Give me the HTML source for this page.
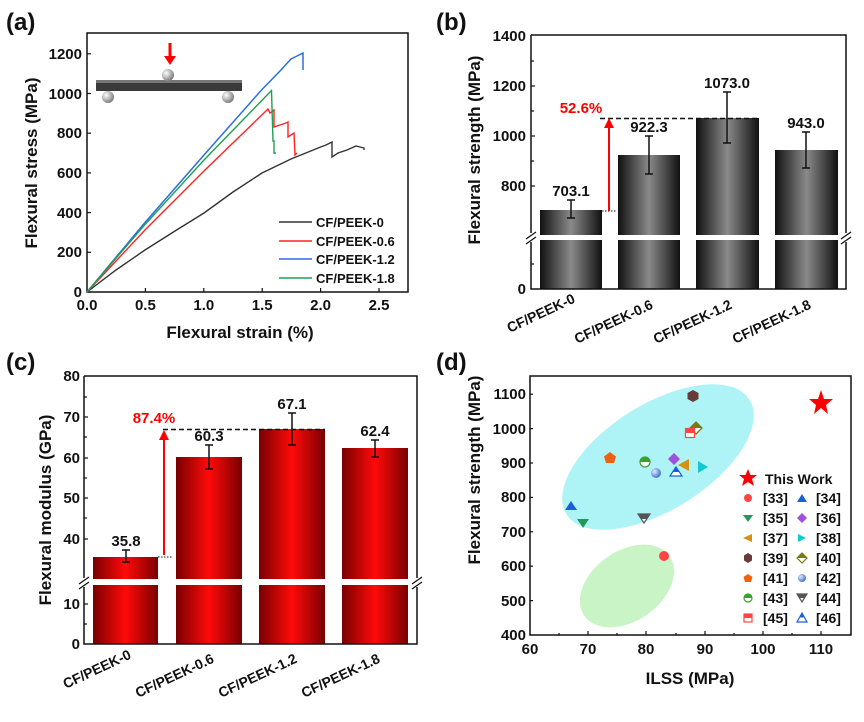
<!DOCTYPE html>
<html><head><meta charset="utf-8"><style>body{margin:0;background:#fff}svg{display:block}text{font-family:"Liberation Sans",Arial,sans-serif;font-weight:bold;fill:#111}</style></head>
<body>
<svg width="864" height="722" viewBox="0 0 864 722" xmlns="http://www.w3.org/2000/svg">
<defs>
<linearGradient id="gg" x1="0" x2="1" y1="0" y2="0"><stop offset="0" stop-color="#111"/><stop offset="0.5" stop-color="#8a8a8a"/><stop offset="1" stop-color="#111"/></linearGradient>
<linearGradient id="rg" x1="0" x2="1" y1="0" y2="0"><stop offset="0" stop-color="#7a0000"/><stop offset="0.5" stop-color="#ff0a0a"/><stop offset="1" stop-color="#7a0000"/></linearGradient>
<radialGradient id="sph" cx="0.35" cy="0.35" r="0.7"><stop offset="0" stop-color="#fff"/><stop offset="1" stop-color="#777"/></radialGradient>
<radialGradient id="bsph" cx="0.35" cy="0.35" r="0.7"><stop offset="0" stop-color="#dde8ff"/><stop offset="1" stop-color="#3a6fc8"/></radialGradient>
</defs>

<!-- ========== (a) ========== -->
<text x="6" y="30" font-size="24">(a)</text>
<rect x="87" y="33" width="321" height="259" fill="none" stroke="#111" stroke-width="1.5"/>
<g stroke="#111" stroke-width="1.2">
<line x1="87" y1="292" x2="91" y2="292"/><line x1="87" y1="252.3" x2="91" y2="252.3"/><line x1="87" y1="212.6" x2="91" y2="212.6"/><line x1="87" y1="172.9" x2="91" y2="172.9"/><line x1="87" y1="133.2" x2="91" y2="133.2"/><line x1="87" y1="93.5" x2="91" y2="93.5"/><line x1="87" y1="53.8" x2="91" y2="53.8"/>
<line x1="145.4" y1="292" x2="145.4" y2="288"/><line x1="203.8" y1="292" x2="203.8" y2="288"/><line x1="262.2" y1="292" x2="262.2" y2="288"/><line x1="320.6" y1="292" x2="320.6" y2="288"/><line x1="379" y1="292" x2="379" y2="288"/>
</g>
<g font-size="15" text-anchor="end">
<text x="82" y="297">0</text><text x="82" y="257">200</text><text x="82" y="218">400</text><text x="82" y="178">600</text><text x="82" y="138">800</text><text x="82" y="99">1000</text><text x="82" y="59">1200</text>
</g>
<g font-size="15" text-anchor="middle">
<text x="87" y="310">0.0</text><text x="145.4" y="310">0.5</text><text x="203.8" y="310">1.0</text><text x="262.2" y="310">1.5</text><text x="320.6" y="310">2.0</text><text x="379" y="310">2.5</text>
</g>
<text x="240" y="338" font-size="17" text-anchor="middle">Flexural strain (%)</text>
<text transform="translate(37,163) rotate(-90)" font-size="17" text-anchor="middle">Flexural stress (MPa)</text>
<!-- inset -->
<circle cx="108" cy="97" r="6" fill="url(#sph)"/><circle cx="228" cy="97" r="6" fill="url(#sph)"/>
<rect x="96" y="80" width="146" height="11" fill="#3a3a3a"/><rect x="96" y="80" width="146" height="3" fill="#777"/>
<circle cx="168" cy="75" r="6" fill="url(#sph)"/>
<line x1="170" y1="43" x2="170" y2="58" stroke="#f00" stroke-width="3"/><polygon points="164,56 176,56 170,65" fill="#f00"/>
<!-- curves -->
<polyline fill="none" stroke="#333" stroke-width="1.4" points="87,292 116,270 145,250 175,231 204,213 233,192 262,173 291,159 320.6,147 326,145 332,142 332,157 338,153 347,150 356,146 360,147 364,148 364,150"/>
<polyline fill="none" stroke="#f22" stroke-width="1.4" points="87,292 145,230 204,171 268,109 270,113 274,110 274,127 280,125 286,123 288,122 288,137 294,133 295,155 297,153"/>
<polyline fill="none" stroke="#2a6fe0" stroke-width="1.5" points="87,292 145,222.5 204,155 262,89.5 280,71 291,59 297,56 303,53 303,70"/>
<polyline fill="none" stroke="#1ea050" stroke-width="1.4" points="87,292 145,224.5 204,160 271.5,90.5 273,141 274,141 274,153 276,153"/>
<g stroke-width="1.5"><line x1="279" y1="222" x2="312" y2="222" stroke="#333"/><line x1="279" y1="241" x2="312" y2="241" stroke="#f22"/><line x1="279" y1="259" x2="312" y2="259" stroke="#2a6fe0"/><line x1="279" y1="278" x2="312" y2="278" stroke="#1ea050"/></g>
<g font-size="13"><text x="316" y="227">CF/PEEK-0</text><text x="316" y="246">CF/PEEK-0.6</text><text x="316" y="264">CF/PEEK-1.2</text><text x="316" y="283">CF/PEEK-1.8</text></g>

<!-- ========== (b) ========== -->
<text x="436" y="30" font-size="24">(b)</text>
<g fill="url(#gg)">
<rect x="540" y="210" width="62" height="25"/><rect x="618" y="155" width="62" height="80"/><rect x="696" y="118" width="63" height="117"/><rect x="775" y="150" width="63" height="85"/>
<rect x="540" y="240" width="62" height="49"/><rect x="618" y="240" width="62" height="49"/><rect x="696" y="240" width="63" height="49"/><rect x="775" y="240" width="63" height="49"/>
</g>
<path d="M531,35 H846 V233 M846,242 V289 H531 V242 M531,233 V35" fill="none" stroke="#111" stroke-width="1.5"/>
<g stroke="#111" stroke-width="1.3"><line x1="526" y1="239" x2="536" y2="232"/><line x1="526" y1="244" x2="536" y2="237"/><line x1="841" y1="239" x2="851" y2="232"/><line x1="841" y1="244" x2="851" y2="237"/></g>
<g stroke="#111" stroke-width="1.2"><line x1="531" y1="186" x2="535" y2="186"/><line x1="531" y1="161" x2="534" y2="161"/><line x1="531" y1="136" x2="535" y2="136"/><line x1="531" y1="111" x2="534" y2="111"/><line x1="531" y1="86" x2="535" y2="86"/><line x1="531" y1="61" x2="534" y2="61"/><line x1="531" y1="264" x2="534" y2="264"/></g>
<g font-size="15" text-anchor="end"><text x="526" y="294">0</text><text x="526" y="191">800</text><text x="526" y="141">1000</text><text x="526" y="91">1200</text><text x="526" y="41">1400</text></g>
<text transform="translate(480,150) rotate(-90)" font-size="17" text-anchor="middle">Flexural strength (MPa)</text>
<g stroke="#111" stroke-width="1.5">
<line x1="571" y1="200" x2="571" y2="218"/><line x1="567" y1="200" x2="575" y2="200"/><line x1="567" y1="218" x2="575" y2="218"/>
<line x1="649" y1="136" x2="649" y2="174"/><line x1="645" y1="136" x2="653" y2="136"/><line x1="645" y1="174" x2="653" y2="174"/>
<line x1="727" y1="92" x2="727" y2="143"/><line x1="723" y1="92" x2="731" y2="92"/><line x1="723" y1="143" x2="731" y2="143"/>
<line x1="806" y1="132" x2="806" y2="168"/><line x1="802" y1="132" x2="810" y2="132"/><line x1="802" y1="168" x2="810" y2="168"/>
</g>
<g font-size="15" text-anchor="middle"><text x="571" y="196">703.1</text><text x="649" y="132">922.3</text><text x="727" y="88">1073.0</text><text x="806" y="128">943.0</text></g>
<line x1="600" y1="118.5" x2="759" y2="118.5" stroke="#111" stroke-width="1.5" stroke-dasharray="5,3"/>
<line x1="602" y1="211" x2="616" y2="211" stroke="#111" stroke-width="1" stroke-dasharray="1.5,1.5"/>
<line x1="609" y1="211" x2="609" y2="126" stroke="#f00" stroke-width="2"/><polygon points="604,128 614,128 609,118" fill="#f00"/>
<text x="581" y="113" font-size="15" text-anchor="middle" style="fill:#f00">52.6%</text>
<g font-size="14" text-anchor="end">
<text transform="translate(576,302) rotate(-25)">CF/PEEK-0</text>
<text transform="translate(654,308) rotate(-25)">CF/PEEK-0.6</text>
<text transform="translate(733,308) rotate(-25)">CF/PEEK-1.2</text>
<text transform="translate(812,308) rotate(-25)">CF/PEEK-1.8</text>
</g>

<!-- ========== (c) ========== -->
<text x="6" y="370" font-size="24">(c)</text>
<g fill="url(#rg)">
<rect x="93" y="557" width="65" height="22"/><rect x="176" y="457" width="66" height="122"/><rect x="259" y="429" width="66" height="150"/><rect x="342" y="448" width="66" height="131"/>
<rect x="93" y="585" width="65" height="59"/><rect x="176" y="585" width="66" height="59"/><rect x="259" y="585" width="66" height="59"/><rect x="342" y="585" width="66" height="59"/>
</g>
<path d="M84,376 H417 V578 M417,587 V644 H84 V587 M84,578 V376" fill="none" stroke="#111" stroke-width="1.5"/>
<g stroke="#111" stroke-width="1.3"><line x1="79" y1="584" x2="89" y2="577"/><line x1="79" y1="589" x2="89" y2="582"/><line x1="412" y1="584" x2="422" y2="577"/><line x1="412" y1="589" x2="422" y2="582"/></g>
<g stroke="#111" stroke-width="1.2"><line x1="84" y1="539" x2="88" y2="539"/><line x1="84" y1="518" x2="87" y2="518"/><line x1="84" y1="498" x2="88" y2="498"/><line x1="84" y1="478" x2="87" y2="478"/><line x1="84" y1="458" x2="88" y2="458"/><line x1="84" y1="437" x2="87" y2="437"/><line x1="84" y1="417" x2="88" y2="417"/><line x1="84" y1="397" x2="87" y2="397"/><line x1="84" y1="604" x2="88" y2="604"/><line x1="84" y1="624" x2="87" y2="624"/></g>
<g font-size="15" text-anchor="end"><text x="80" y="649">0</text><text x="80" y="609">10</text><text x="80" y="544">40</text><text x="80" y="503">50</text><text x="80" y="463">60</text><text x="80" y="422">70</text><text x="80" y="381">80</text></g>
<text transform="translate(51,510) rotate(-90)" font-size="17" text-anchor="middle">Flexural modulus (GPa)</text>
<g stroke="#111" stroke-width="1.5">
<line x1="126" y1="550" x2="126" y2="562"/><line x1="122" y1="550" x2="130" y2="550"/><line x1="122" y1="562" x2="130" y2="562"/>
<line x1="209" y1="445" x2="209" y2="469"/><line x1="205" y1="445" x2="213" y2="445"/><line x1="205" y1="469" x2="213" y2="469"/>
<line x1="292" y1="413" x2="292" y2="445"/><line x1="288" y1="413" x2="296" y2="413"/><line x1="288" y1="445" x2="296" y2="445"/>
<line x1="375" y1="440" x2="375" y2="457"/><line x1="371" y1="440" x2="379" y2="440"/><line x1="371" y1="457" x2="379" y2="457"/>
</g>
<g font-size="15" text-anchor="middle"><text x="126" y="546">35.8</text><text x="209" y="441">60.3</text><text x="292" y="409">67.1</text><text x="375" y="436">62.4</text></g>
<line x1="163" y1="429.5" x2="325" y2="429.5" stroke="#111" stroke-width="1.5" stroke-dasharray="5,3"/>
<line x1="158" y1="557" x2="173" y2="557" stroke="#111" stroke-width="1" stroke-dasharray="1.5,1.5"/>
<line x1="164" y1="555" x2="164" y2="438" stroke="#f00" stroke-width="2"/><polygon points="159,440 169,440 164,430" fill="#f00"/>
<text x="154" y="423" font-size="15" text-anchor="middle" style="fill:#f00">87.4%</text>
<g font-size="14" text-anchor="end">
<text transform="translate(132,658) rotate(-25)">CF/PEEK-0</text>
<text transform="translate(215,662) rotate(-25)">CF/PEEK-0.6</text>
<text transform="translate(298,662) rotate(-25)">CF/PEEK-1.2</text>
<text transform="translate(381,662) rotate(-25)">CF/PEEK-1.8</text>
</g>

<!-- ========== (d) ========== -->
<text x="436" y="370" font-size="24">(d)</text>
<ellipse cx="658" cy="457" rx="108" ry="53" transform="rotate(-32 658 457)" fill="#aef4f7"/>
<ellipse cx="627" cy="586" rx="52" ry="35" transform="rotate(-35 627 586)" fill="#c9f5c6"/>
<rect x="530" y="376" width="321" height="259" fill="none" stroke="#111" stroke-width="1.5"/>
<g stroke="#111" stroke-width="1.2">
<line x1="530" y1="600.6" x2="533" y2="600.6"/><line x1="530" y1="566.2" x2="533" y2="566.2"/><line x1="530" y1="531.8" x2="533" y2="531.8"/><line x1="530" y1="497.4" x2="533" y2="497.4"/><line x1="530" y1="463" x2="533" y2="463"/><line x1="530" y1="428.6" x2="533" y2="428.6"/><line x1="530" y1="394.2" x2="533" y2="394.2"/>
<line x1="588" y1="635" x2="588" y2="631"/><line x1="646" y1="635" x2="646" y2="631"/><line x1="705" y1="635" x2="705" y2="631"/><line x1="763" y1="635" x2="763" y2="631"/><line x1="821" y1="635" x2="821" y2="631"/>
<line x1="559" y1="635" x2="559" y2="633"/><line x1="617" y1="635" x2="617" y2="633"/><line x1="676" y1="635" x2="676" y2="633"/><line x1="734" y1="635" x2="734" y2="633"/><line x1="792" y1="635" x2="792" y2="633"/>
</g>
<g font-size="15" text-anchor="end"><text x="526" y="640">400</text><text x="526" y="606">500</text><text x="526" y="571">600</text><text x="526" y="537">700</text><text x="526" y="502">800</text><text x="526" y="468">900</text><text x="526" y="434">1000</text><text x="526" y="399">1100</text></g>
<g font-size="15" text-anchor="middle"><text x="530" y="654">60</text><text x="588" y="654">70</text><text x="646" y="654">80</text><text x="705" y="654">90</text><text x="763" y="654">100</text><text x="821" y="654">110</text></g>
<text x="690" y="684" font-size="17" text-anchor="middle">ILSS (MPa)</text>
<text transform="translate(480,470) rotate(-90)" font-size="17" text-anchor="middle">Flexural strength (MPa)</text>
<!-- points -->
<polygon points="821,390 824,399 833,399 826,405 828,414 821,408 814,414 816,405 809,399 818,399" fill="#f00"/>
<circle cx="664" cy="556" r="5" fill="#f44"/>
<polygon points="571,501 565,510 577,510" fill="#1a5fd8"/>
<polygon points="577,519 589,519 583,528" fill="#1e9a5a"/>
<polygon points="674,453 680,459 674,465 668,459" fill="#a050e0"/>
<polygon points="678,465 689,459 689,471" fill="#d49010"/>
<polygon points="698,461 698,473 708,467" fill="#10c8d0"/>
<polygon points="693,390 698.5,393 698.5,399 693,402 687.5,399 687.5,393" fill="#6a3a3a"/>
<polygon points="696,422 702,428 696,434 690,428" fill="#fff" stroke="#7a7a10" stroke-width="1.3"/><polygon points="690,428 696,422 702,428" fill="#7a7a10"/>
<polygon points="610,452 616,456.5 614,463 606,463 604,456.5" fill="#f06010"/>
<circle cx="656" cy="473" r="5" fill="url(#bsph)"/>
<circle cx="645" cy="462" r="5" fill="#fff" stroke="#3aa030" stroke-width="1.2"/><path d="M640,462 A5,5 0 0 1 650,462 Z" fill="#3aa030"/>
<polygon points="638,514 650,514 644,523" fill="#fff" stroke="#555" stroke-width="1.2"/><polygon points="638,514 650,514 647,519 641,519" fill="#555"/>
<rect x="685.5" y="428.5" width="9" height="9" fill="#fff" stroke="#f44" stroke-width="1.2"/><rect x="685.5" y="428.5" width="9" height="4.5" fill="#f44"/>
<polygon points="676,467 670,476 682,476" fill="#fff" stroke="#1a5fd8" stroke-width="1.2"/><polygon points="676,467 673,472 679,472" fill="#1a5fd8"/>
<!-- legend -->
<polygon points="748,469 750.5,475 757,475 752,479 754,486 748,482 742,486 744,479 739,475 745.5,475" fill="#f00"/>
<g font-size="14"><text x="765" y="484">This Work</text>
<text x="763" y="503">[33]</text><text x="816" y="503">[34]</text>
<text x="763" y="523">[35]</text><text x="816" y="523">[36]</text>
<text x="763" y="543">[37]</text><text x="816" y="543">[38]</text>
<text x="763" y="563">[39]</text><text x="816" y="563">[40]</text>
<text x="763" y="583">[41]</text><text x="816" y="583">[42]</text>
<text x="763" y="603">[43]</text><text x="816" y="603">[44]</text>
<text x="763" y="623">[45]</text><text x="816" y="623">[46]</text></g>
<circle cx="748" cy="498" r="4" fill="#f44"/>
<polygon points="802,494 797,502 807,502" fill="#1a5fd8"/>
<polygon points="743,515 753,515 748,522" fill="#1e9a5a"/>
<polygon points="802,513 807,518 802,523 797,518" fill="#a050e0"/>
<polygon points="743,538 752,534 752,542" fill="#d49010"/>
<polygon points="798,534 798,542 806,538" fill="#10c8d0"/>
<polygon points="748,553 752,555.5 752,560.5 748,563 744,560.5 744,555.5" fill="#6a3a3a"/>
<polygon points="802,553 807,558 802,563 797,558" fill="#fff" stroke="#7a7a10" stroke-width="1.2"/><polygon points="797,558 802,553 807,558" fill="#7a7a10"/>
<polygon points="748,574 752.5,577 751,582 745,582 743.5,577" fill="#f06010"/>
<circle cx="802" cy="578" r="4" fill="url(#bsph)"/>
<circle cx="748" cy="598" r="4" fill="#fff" stroke="#3aa030" stroke-width="1.2"/><path d="M744,598 A4,4 0 0 1 752,598 Z" fill="#3aa030"/>
<polygon points="797,594 807,594 802,602" fill="#fff" stroke="#555" stroke-width="1.2"/><polygon points="797,594 807,594 804.5,598 799.5,598" fill="#555"/>
<rect x="744" y="614" width="8" height="8" fill="#fff" stroke="#f44" stroke-width="1.2"/><rect x="744" y="614" width="8" height="4" fill="#f44"/>
<polygon points="802,613 797,622 807,622" fill="#fff" stroke="#1a5fd8" stroke-width="1.2"/><polygon points="802,613 799.5,617.5 804.5,617.5" fill="#1a5fd8"/>
</svg>
</body></html>
